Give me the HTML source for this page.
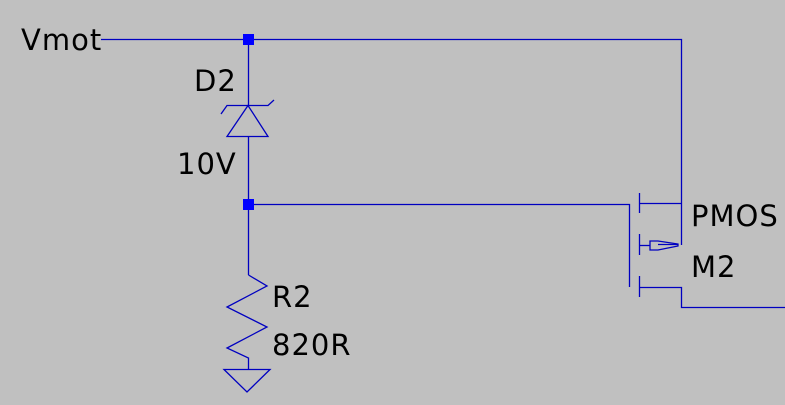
<!DOCTYPE html>
<html><head><style>
html,body{margin:0;padding:0;background:#c0c0c0;}
svg{display:block}
text{font-family:"DejaVu Sans",sans-serif;font-size:29px;fill:#000;letter-spacing:1px}
</style></head><body>
<svg width="785" height="405" viewBox="0 0 785 405" xmlns="http://www.w3.org/2000/svg">
<g stroke="#0000c0" stroke-width="1.3" fill="none">
<path d="M101 39.5H681.5V245"/>
<path d="M248.5 39V105"/>
<path d="M221 114L227 105.5H268L274 100"/>
<path d="M248 105.5L227 136.5H268Z"/>
<path d="M248.5 136V275"/>
<path d="M248 204.5H629.5V287"/>
<path d="M639.5 193V213M639.5 234V255M639.5 276V297"/>
<path d="M639 203.5H681"/>
<path d="M639 245.5H650"/>
<path d="M650 241H658L678 244V246L658 250H650Z"/>
<path d="M658 244.5H678"/>
<path d="M639 287.5H681.5V307.5H785"/>
<path d="M248.5 275L267 286L227 307L267 327L227 348L248.5 358V369"/>
<path d="M224 369.5H270L247 392Z"/>
</g>
<g fill="#0000ff">
<rect x="243" y="34" width="11" height="11"/>
<rect x="243" y="199" width="11" height="11"/>
</g>
<text x="21" y="50">Vmot</text>
<text x="194" y="91">D2</text>
<text x="177" y="174">10V</text>
<text x="691" y="226">PMOS</text>
<text x="691" y="277">M2</text>
<text x="272" y="307">R2</text>
<text x="272" y="355">820R</text>
</svg>
</body></html>
